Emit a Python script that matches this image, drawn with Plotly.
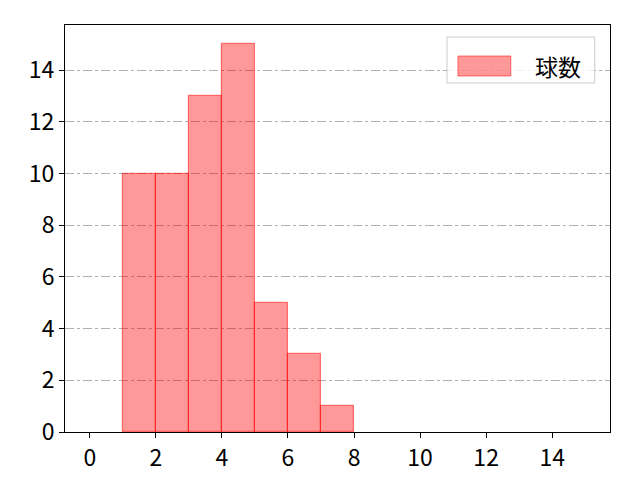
import plotly.graph_objects as go

bin_starts = [0, 1, 2, 3, 4, 5, 6, 7, 8, 9, 10, 11, 12, 13, 14]
counts = [0, 10, 10, 13, 15, 5, 3, 1, 0, 0, 0, 0, 0, 0, 0]
x_ticks = [0, 2, 4, 6, 8, 10, 12, 14]
y_ticks = [0, 2, 4, 6, 8, 10, 12, 14]
series_name = "球数"

centers = [b + 0.5 for b in bin_starts]
edge_colors = ["rgba(255,0,0,0.5)" if c > 0 else "rgba(0,0,0,0)" for c in counts]

fig = go.Figure()
fig.add_trace(go.Bar(
    x=centers, y=counts, width=1.0, name=series_name,
    marker=dict(color="rgba(255,0,0,0.4)", line=dict(color=edge_colors, width=1.2)),
    showlegend=False,
))

font_family = "Noto Sans CJK JP"
fill_col = "rgba(255,0,0,0.4)"
edge_col = "rgba(255,0,0,0.5)"

# manual legend (matplotlib style)
fig.add_shape(type="rect", xref="paper", yref="paper",
              x0=0.701, x1=0.972, y0=0.8575, y1=0.9705,
              line=dict(color="#cccccc", width=1), fillcolor="rgba(255,255,255,0.8)", layer="above")
fig.add_shape(type="rect", xref="paper", yref="paper",
              x0=0.721, x1=0.818, y0=0.8747, y1=0.9238,
              line=dict(color=edge_col, width=1), fillcolor=fill_col, layer="above")
fig.add_annotation(xref="paper", yref="paper", x=0.905, y=0.899,
                   text=series_name, showarrow=False, xanchor="center", yanchor="middle",
                   font=dict(size=23, family=font_family, color="black"))

fig.update_layout(
    width=640, height=480,
    margin=dict(l=57, r=38, t=17, b=56),
    paper_bgcolor="white", plot_bgcolor="white",
    font=dict(family=font_family, size=23, color="black"),
    bargap=0,
    showlegend=False,
    xaxis=dict(
        range=[-0.75, 15.75], tickvals=x_ticks, showgrid=False, zeroline=False,
        showline=True, linecolor="black", linewidth=1, mirror=True,
        ticks="outside", ticklen=5, tickcolor="black", tickfont=dict(size=23),
    ),
    yaxis=dict(
        range=[0, 15.75], tickvals=y_ticks, zeroline=False,
        showgrid=True, gridcolor="#b0b0b0", griddash="dashdot", gridwidth=0.8,
        showline=True, linecolor="black", linewidth=1, mirror=True,
        ticks="outside", ticklen=5, tickcolor="black", tickfont=dict(size=23),
    ),
)

fig.write_html("out.html")
